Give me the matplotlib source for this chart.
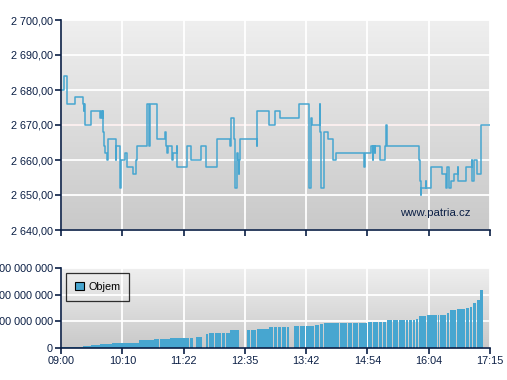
import matplotlib
matplotlib.use("Agg")
import matplotlib.pyplot as plt
import matplotlib.ticker as ticker
import numpy as np

# ── Data ─────────────────────────────────────────────────────────────────────
# trade times in minutes after 09:00, price after the trade
trade_min = [0, 3.5, 7.3, 16.5, 25.7, 26.3, 26.9, 27.3, 34.9, 45.3, 45.9, 47.6,
             48.2, 48.8, 49.6, 51.1, 53.4, 53.8, 63.1, 63.4, 68.0, 69.5, 73.4,
             76.4, 83.4, 86.8, 87.6, 99.5, 101.8, 102.2, 110.3, 120.3, 121.4,
             122.6, 122.9, 128.0, 128.8, 133.4, 134.1, 145.6, 150.2, 161.8,
             167.5, 180.2, 195.2, 195.6, 199.8, 201.0, 202.6, 204.4, 205.6,
             205.9, 206.7, 226.3, 226.7, 240.2, 247.1, 252.9, 274.8, 286.3,
             287.9, 289.8, 299.0, 299.4, 300.1, 303.6, 308.2, 314.0, 317.4,
             349.9, 350.9, 357.8, 360.1, 360.5, 362.4, 362.7, 368.2, 373.9,
             374.7, 376.2, 413.1, 413.9, 414.3, 415.4, 415.8, 421.2, 421.5,
             426.6, 439.6, 444.2, 445.4, 447.7, 450.0, 453.5, 458.1, 458.4,
             467.3, 474.2, 474.6, 476.5, 480.4, 484.6, 495]
price = [2680, 2684, 2676, 2678, 2676, 2674, 2676, 2670, 2674, 2672, 2674, 2672,
         2674, 2668, 2664, 2662, 2660, 2666, 2660, 2664, 2652, 2660, 2662,
         2658, 2656, 2660, 2664, 2676, 2664, 2676, 2666, 2668, 2664,
         2662, 2664, 2660, 2662, 2664, 2658, 2664, 2660, 2664,
         2658, 2666, 2664, 2672, 2666, 2652, 2662, 2660, 2656,
         2660, 2666, 2664, 2674, 2670, 2674, 2672, 2676, 2652,
         2672, 2670, 2676, 2668, 2652, 2668, 2666, 2660, 2662,
         2658, 2662, 2664, 2660, 2664, 2662, 2664, 2660, 2664,
         2670, 2664, 2660, 2658, 2654, 2650, 2652, 2654, 2652,
         2658, 2656, 2652, 2658, 2652, 2654, 2656, 2658, 2654,
         2658, 2660, 2654, 2660, 2656, 2670, 2670]
prev_close = 2670

# cumulative volume (millions), bar start minute
vol_min = [0, 3.5, 8.1, 11.5, 16.1, 19.6, 25.4, 28.8, 34.6, 38.0, 41.5, 45.0,
           48.4, 51.9, 55.3, 58.8, 62.3, 65.7, 69.2, 72.6, 77.3, 81.9, 86.5,
           89.9, 96.9, 99.2, 104.9, 107.2, 110.7, 114.1, 117.6, 125.7, 137.2,
           143.0, 148.7, 152.2, 155.7, 158.0, 162.6, 167.2, 170.6, 177.5, 185.6,
           190.2, 194.9, 206.4, 214.5, 216.8, 219.1, 226.0, 239.9, 245.6, 250.2,
           254.8, 260.6, 264.0, 268.6, 275.6, 282.5, 292.9, 298.6, 303.2, 321.7,
           330.9, 336.7, 343.6, 354.0, 359.7, 366.7, 371.3, 375.9, 382.8, 389.7,
           397.8, 401.2, 405.9, 409.3, 412.8, 422.0, 434.7, 437.0, 445.1, 448.5,
           456.6, 467.0, 471.6, 475.0, 479.6, 484.0, 487.0]
vol_cum = [2, 3, 3, 4, 4, 5, 7, 8, 10, 10, 11, 14,
           15, 16, 16, 18, 19, 19, 19, 19, 19, 19, 20,
           29, 29, 30, 30, 33, 33, 35, 35, 37, 37,
           37, 37, 0, 41, 41, 0, 52, 55, 58, 58,
           58, 66, 0, 68, 68, 68, 71, 79, 79, 79,
           79, 79, 0, 82, 82, 82, 87, 90, 95, 95,
           95, 95, 95, 99, 99, 99, 99, 105, 105, 105,
           105, 105, 105, 110, 121, 125, 125, 125, 132, 142,
           146, 150, 155, 167, 180, 217]

time_labels = ["09:00", "10:10", "11:22", "12:35", "13:42", "14:54", "16:04", "17:15"]
session_len = 495

# ── Style ────────────────────────────────────────────────────────────────────
NAVY = "#0b1f45"
BLUE = "#47a6d0"
RED = "#c8312a"
plt.rcParams.update({
    "font.family": ["Liberation Sans", "DejaVu Sans"],
    "font.size": 7.8,
    "xtick.color": NAVY,
    "ytick.color": NAVY,
    "xtick.labelcolor": NAVY,
    "ytick.labelcolor": NAVY,
})

fig = plt.figure(figsize=(5.07, 3.80), dpi=100)
ax_p = fig.add_axes([61 / 507, 1 - 230 / 380, 429 / 507, 210 / 380])
ax_v = fig.add_axes([61 / 507, 1 - 348 / 380, 429 / 507, 80 / 380])

xticks = np.linspace(0, session_len, len(time_labels))


def style(ax, ylim):
    ax.set_xlim(0, session_len)
    ax.set_ylim(*ylim)
    grad = np.linspace(0, 1, 256).reshape(-1, 1)
    ax.imshow(grad, extent=(0, session_len, ylim[0], ylim[1]), aspect="auto",
              cmap=matplotlib.colors.LinearSegmentedColormap.from_list(
                  "bg", ["#c9c9c9", "#efefef"]),
              origin="lower", zorder=0, interpolation="bilinear")
    ax.set_xticks(xticks)
    ax.grid(True, color="white", linewidth=1.3, zorder=1)
    ax.set_axisbelow(False)
    for s in ("top", "right"):
        ax.spines[s].set_visible(False)
    for s in ("left", "bottom"):
        ax.spines[s].set_color(NAVY)
        ax.spines[s].set_linewidth(1.2)
        ax.spines[s].set_zorder(5)
    ax.tick_params(direction="out", length=4, width=1.2, color=NAVY, pad=2)


# ── Price panel ──────────────────────────────────────────────────────────────
style(ax_p, (2640, 2700))
ax_p.set_yticks(np.arange(2640, 2701, 10))
ax_p.yaxis.set_major_formatter(ticker.FuncFormatter(
    lambda v, _: f"{v:,.2f}".replace(",", " ").replace(".", ",")))
ax_p.set_xticklabels([])
ax_p.axhline(prev_close, color=RED, linewidth=1.1, zorder=2)
ax_p.step(trade_min, price, where="post", color=BLUE, linewidth=1.1, zorder=3)
ax_p.text(0.955, 0.08, "www.patria.cz", transform=ax_p.transAxes,
          ha="right", va="center", color=NAVY, fontsize=8.2, zorder=4)

# ── Volume panel ─────────────────────────────────────────────────────────────
style(ax_v, (0, 300))
ax_v.set_yticks([0, 100, 200, 300])
ax_v.yaxis.set_major_formatter(ticker.FuncFormatter(
    lambda v, _: "0" if v == 0 else f"{int(v * 1e6):,}".replace(",", " ")))
ax_v.set_xticklabels(time_labels)
widths = np.diff(vol_min) - 0.45
ax_v.bar(vol_min[:-1], vol_cum, width=widths, align="edge", color=BLUE,
         linewidth=0, zorder=3, label="Objem")
leg = ax_v.legend(loc="upper left", bbox_to_anchor=(0.0, 1.0), frameon=True,
                  fancybox=False, edgecolor="black", facecolor="none",
                  handlelength=0.8, handleheight=0.8, handletextpad=0.4,
                  borderpad=0.8, fontsize=7.8)
leg.get_frame().set_linewidth(0.9)
for h in leg.legend_handles:
    h.set_edgecolor("black")
    h.set_linewidth(0.8)

fig.savefig("out.png", dpi=100, facecolor="white")
